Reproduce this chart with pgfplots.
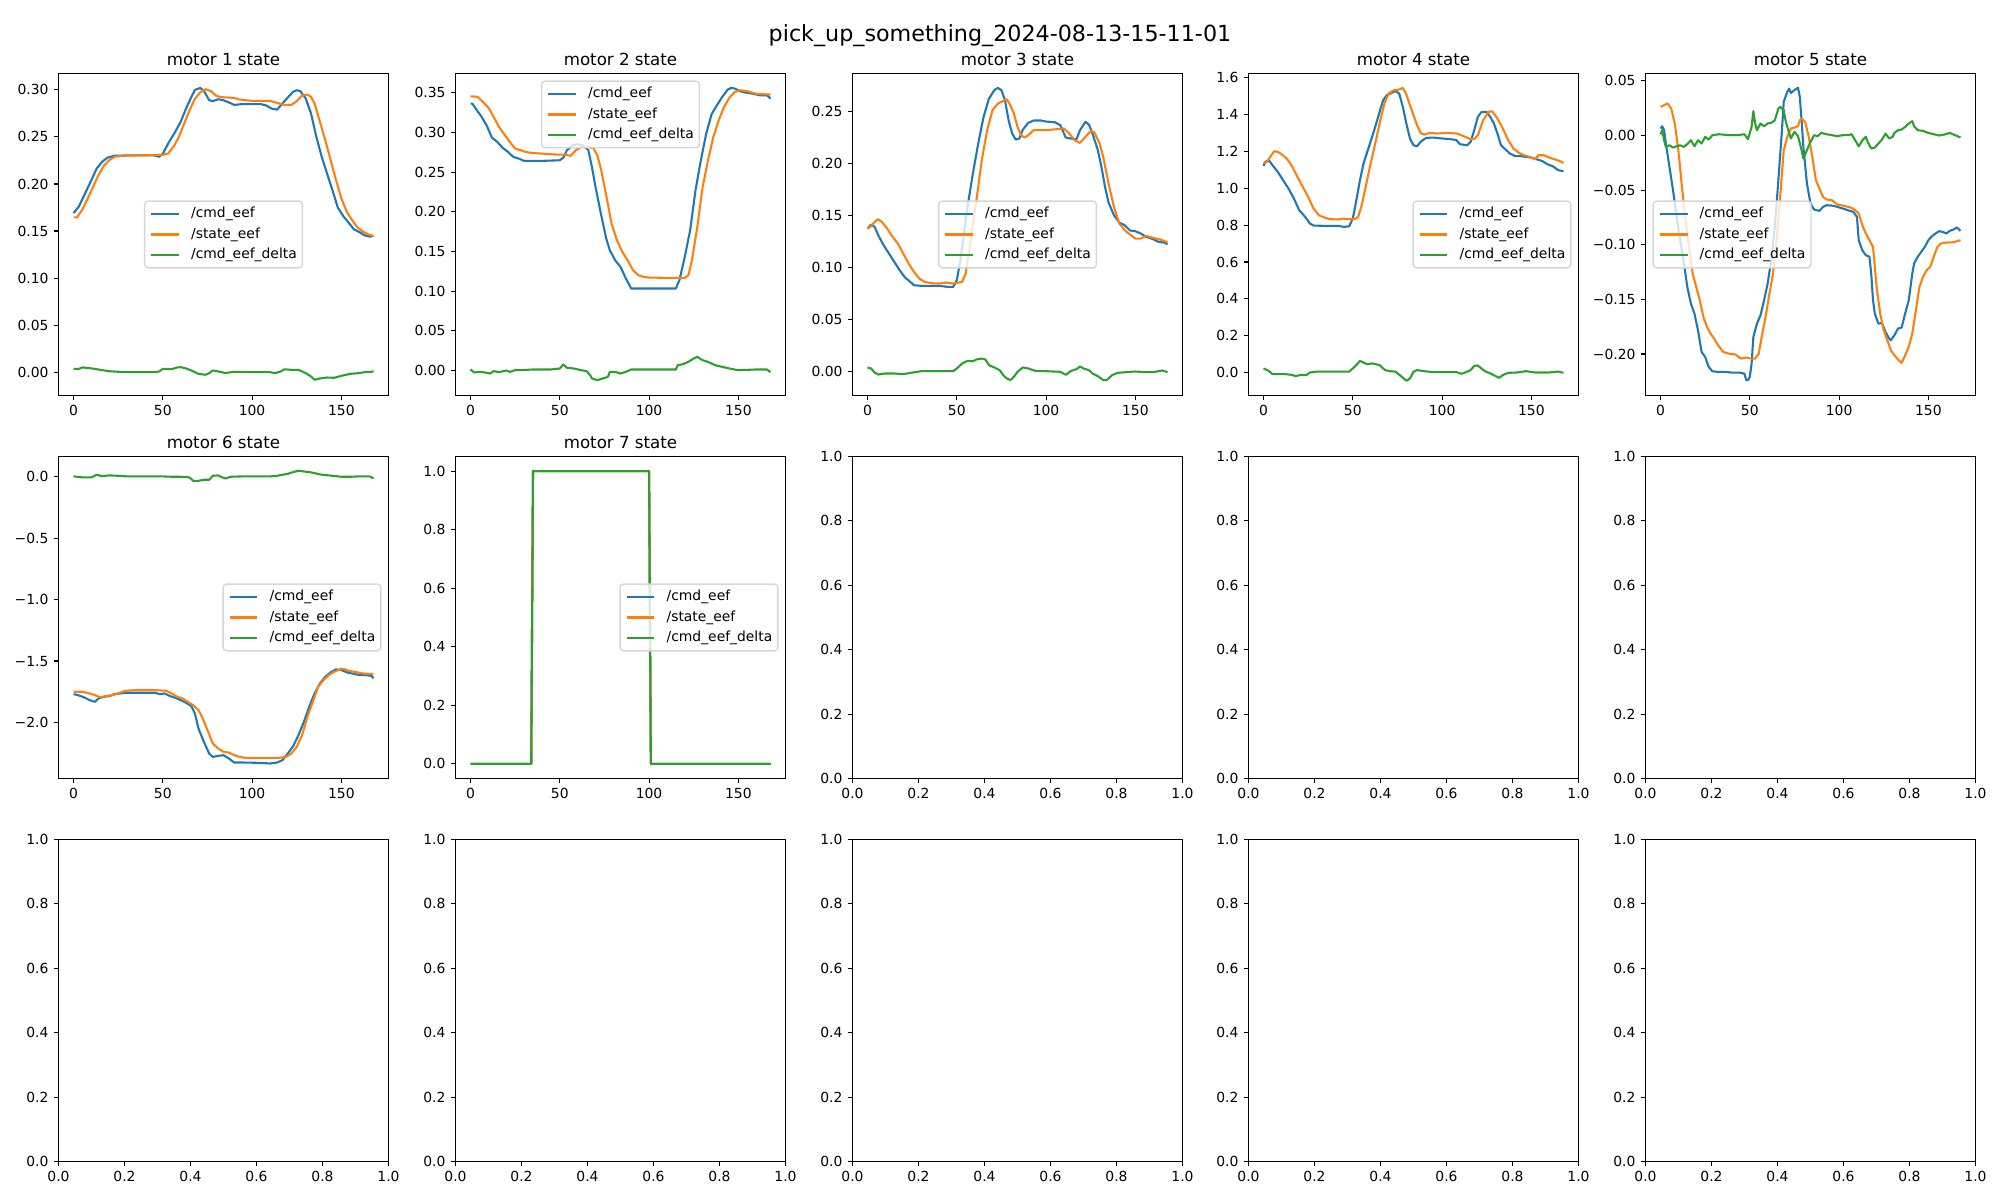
\documentclass[border=0pt]{standalone}
\usepackage{fontspec}
\setmainfont{DejaVu Sans}
\usepackage{pgfplots}
\pgfplotsset{compat=1.18}
\definecolor{mblue}{HTML}{1F77B4}
\definecolor{morange}{HTML}{FF7F0E}
\definecolor{mgreen}{HTML}{2CA02C}
\definecolor{legedge}{RGB}{214,214,214}
\newcommand{\tickfont}{\fontsize{10bp}{12bp}\selectfont}
\newcommand{\titlefont}{\fontsize{12bp}{14bp}\selectfont}
\pgfplotsset{
  mp/.style={scale only axis, width=3.30in, height=3.22in, anchor=south west,
    line width=0.8bp, tick align=outside, tick pos=left, major tick length=3.5bp,
    every tick/.style={black, line width=0.8bp},
    tick label style={font=\tickfont},
    every axis title shift=0pt,
    title style={font=\titlefont, at={(0.5,1)}, anchor=base, yshift=6bp, inner sep=0pt},
    legend cell align=left,
    legend style={font=\tickfont, fill=white, fill opacity=0.8, text opacity=1, draw=legedge,
      line width=1bp, rounded corners=2.5bp, inner xsep=4bp, inner ysep=4bp,
      row sep=5bp, column sep=8bp,
      nodes={inner sep=0pt, text height=7.6bp, text depth=2.4bp}},
    legend image code/.code={\draw[#1, line width=1.5bp, draw opacity=1] (0bp,0bp) -- (20bp,0bp);},
    every axis plot/.append style={line width=1.5bp, no markers, line join=round},
  },
  dat/.style={mp, xmin=-8.4, xmax=176.4, xtick={0,50,100,150}, xticklabels={0,50,100,150}},
  emp/.style={mp, xmin=0, xmax=1, ymin=0, ymax=1,
    xtick={0,0.2,0.4,0.6,0.8,1}, ytick={0,0.2,0.4,0.6,0.8,1},
    xticklabels={0.0,0.2,0.4,0.6,0.8,1.0}, yticklabels={0.0,0.2,0.4,0.6,0.8,1.0}},
  cl/.style={legend style={at={(0.5,0.5)}, anchor=center}},
  cr/.style={legend style={at={(1,0.5)}, anchor=east, xshift=-5bp}},
  cleft/.style={legend style={at={(0,0.5)}, anchor=west, xshift=5bp}},
  uc/.style={legend style={at={(0.5,1)}, anchor=north, yshift=-5bp}},
}
\begin{document}
\begin{tikzpicture}
\path[use as bounding box] (0,0) rectangle (20in,12in);
\node[font=\fontsize{16bp}{19bp}\selectfont, anchor=base, inner sep=0pt] at (10in,11.583in) {pick\_up\_something\_2024-08-13-15-11-01};

% motor 1
\begin{axis}[dat, cl, at={(0.585in,8.045in)}, title={motor 1 state}, ymin=-0.0248, ymax=0.3174,
  ytick={0,0.05,0.1,0.15,0.2,0.25,0.3}, yticklabels={0.00,0.05,0.10,0.15,0.20,0.25,0.30}]
\addplot[mblue] coordinates {(0,0.169)(3,0.176)(7,0.192)(10,0.204)(13,0.2165)(16,0.2235)(19,0.228)(23,0.230)(30,0.2303)(45,0.2303)(48,0.229)(50,0.232)(53,0.243)(57,0.2555)(60,0.266)(63,0.280)(66,0.2925)(68,0.300)(71,0.302)(73,0.299)(76,0.289)(78,0.288)(81,0.290)(84,0.289)(87,0.2866)(90,0.284)(95,0.285)(105,0.2848)(108,0.2834)(111,0.280)(114,0.279)(117,0.2855)(120,0.2919)(123,0.298)(125,0.2996)(127,0.2986)(130,0.291)(133,0.275)(136,0.250)(139,0.2289)(142,0.211)(145,0.1935)(148,0.175)(151,0.166)(154,0.159)(157,0.1518)(160,0.149)(163,0.1454)(166,0.144)(168,0.1447)};
\addplot[morange] coordinates {(0,0.1645)(2,0.1645)(5,0.173)(8,0.1847)(11,0.197)(14,0.2094)(17,0.2193)(20,0.2253)(23,0.2289)(27,0.230)(45,0.2307)(50,0.231)(53,0.2324)(56,0.2395)(59,0.250)(62,0.2643)(65,0.2784)(68,0.2904)(71,0.2975)(74,0.3007)(77,0.2986)(80,0.2936)(83,0.2922)(90,0.2915)(93,0.2897)(100,0.2883)(110,0.2883)(114,0.2862)(118,0.284)(122,0.284)(125,0.288)(128,0.294)(131,0.295)(133,0.2926)(135,0.2855)(138,0.266)(141,0.2466)(144,0.2254)(147,0.2041)(150,0.1847)(153,0.1705)(156,0.1617)(159,0.1539)(162,0.1496)(165,0.1465)(168,0.1447)};
\addplot[mgreen] coordinates {(0,0.0035)(3,0.0035)(5,0.005)(10,0.004)(15,0.0025)(20,0.001)(25,0.0004)(30,0)(45,0)(48,0.0007)(50,0.0035)(55,0.0032)(58,0.005)(60,0.0053)(63,0.004)(66,0.0018)(70,-0.0018)(74,-0.0028)(76,-0.001)(78,0.0018)(82,0.0004)(85,-0.001)(90,0.0004)(100,0)(110,0)(113,-0.001)(116,0.0007)(118,0.003)(122,0.0025)(126,0.0025)(130,-0.001)(133,-0.0046)(135,-0.0081)(138,-0.0067)(142,-0.0057)(146,-0.006)(150,-0.0039)(155,-0.0018)(160,-0.001)(163,0)(166,0)(168,0.001)};
\legend{/cmd\_eef,/state\_eef,/cmd\_eef\_delta}
\end{axis}

% motor 2
\begin{axis}[dat, uc, at={(4.555in,8.045in)}, title={motor 2 state}, ymin=-0.0315, ymax=0.3745,
  ytick={0,0.05,0.1,0.15,0.2,0.25,0.3,0.35}, yticklabels={0.00,0.05,0.10,0.15,0.20,0.25,0.30,0.35}]
\addplot[mblue] coordinates {(0,0.3366)(1,0.3366)(3,0.330)(6,0.3206)(9,0.3092)(12,0.2937)(15,0.2882)(18,0.2807)(21,0.2756)(24,0.2693)(27,0.2672)(30,0.2643)(40,0.2643)(50,0.2651)(52,0.2685)(54,0.2777)(57,0.284)(60,0.2853)(63,0.284)(66,0.2777)(68,0.2567)(70,0.2315)(73,0.1979)(76,0.1664)(78,0.1517)(81,0.139)(84,0.1307)(87,0.116)(90,0.1034)(95,0.1034)(115,0.1034)(117,0.1139)(120,0.1433)(123,0.1769)(126,0.2273)(129,0.2651)(132,0.2987)(135,0.3231)(138,0.3345)(141,0.345)(144,0.3542)(146,0.3563)(148,0.3555)(151,0.3521)(154,0.3504)(158,0.349)(162,0.347)(166,0.347)(168,0.3429)};
\addplot[morange] coordinates {(0,0.3458)(4,0.345)(7,0.3387)(10,0.3315)(13,0.3197)(16,0.307)(19,0.2975)(22,0.2882)(25,0.2798)(28,0.2777)(31,0.2756)(34,0.2744)(40,0.2735)(48,0.2723)(53,0.2723)(56,0.2706)(59,0.2777)(62,0.282)(66,0.282)(69,0.2798)(71,0.2714)(73,0.2546)(76,0.2210)(79,0.1853)(82,0.1643)(85,0.1496)(88,0.139)(91,0.1265)(94,0.1202)(97,0.118)(100,0.1172)(110,0.1168)(120,0.1168)(122,0.1202)(124,0.139)(127,0.181)(130,0.2315)(133,0.2651)(136,0.2945)(139,0.3155)(142,0.3324)(145,0.3441)(148,0.3513)(151,0.3534)(155,0.3521)(160,0.349)(168,0.3479)};
\addplot[mgreen] coordinates {(0,0.0013)(2,-0.0025)(5,-0.0017)(8,-0.0025)(11,-0.0038)(13,-0.0008)(16,-0.0021)(20,0)(22,-0.0017)(25,0.0004)(28,0.0004)(35,0.0013)(45,0.0013)(50,0.0025)(52,0.0076)(54,0.0034)(58,0.0025)(62,0.0004)(65,-0.0008)(67,-0.0059)(68,-0.01)(71,-0.0122)(74,-0.01)(77,-0.008)(78,-0.0017)(81,-0.0017)(84,-0.0038)(87,-0.0017)(90,0.0013)(100,0.0013)(115,0.0013)(116,0.0067)(119,0.008)(122,0.0109)(125,0.0151)(127,0.0172)(130,0.013)(133,0.0109)(137,0.0067)(141,0.0046)(145,0.0025)(150,0.0004)(160,0.0013)(166,0.0013)(168,-0.0021)};
\legend{/cmd\_eef,/state\_eef,/cmd\_eef\_delta}
\end{axis}

% motor 3
\begin{axis}[dat, cl, at={(8.525in,8.045in)}, title={motor 3 state}, ymin=-0.0231, ymax=0.287,
  ytick={0,0.05,0.1,0.15,0.2,0.25}, yticklabels={0.00,0.05,0.10,0.15,0.20,0.25}]
\addplot[mblue] coordinates {(0,0.1377)(2,0.1415)(4,0.1393)(6,0.1313)(9,0.1216)(12,0.1136)(15,0.1056)(18,0.0976)(21,0.0905)(24,0.0863)(26,0.0831)(30,0.0825)(40,0.0825)(45,0.0815)(48,0.0815)(50,0.0879)(52,0.1072)(54,0.1329)(56,0.1585)(59,0.1906)(62,0.2195)(65,0.2452)(68,0.2628)(71,0.2709)(73,0.2731)(75,0.2709)(77,0.2612)(79,0.242)(81,0.2291)(83,0.2234)(85,0.2243)(87,0.233)(90,0.2394)(93,0.2417)(97,0.2417)(100,0.2407)(105,0.24)(108,0.2372)(111,0.2253)(114,0.2243)(117,0.2237)(119,0.2323)(122,0.2404)(124,0.2378)(126,0.2291)(129,0.2131)(131,0.197)(133,0.1778)(135,0.1627)(138,0.1505)(141,0.1435)(144,0.1409)(147,0.1358)(150,0.1351)(153,0.1329)(156,0.1297)(160,0.1274)(163,0.1248)(166,0.1242)(168,0.1226)};
\addplot[morange] coordinates {(0,0.1377)(2,0.1399)(4,0.1441)(6,0.1467)(8,0.1441)(11,0.1377)(14,0.1297)(17,0.1232)(20,0.1136)(23,0.104)(26,0.096)(29,0.0895)(32,0.0863)(36,0.085)(40,0.0847)(44,0.0857)(48,0.0847)(53,0.0863)(55,0.0944)(57,0.1168)(59,0.1425)(61,0.165)(64,0.2035)(67,0.2324)(70,0.2516)(73,0.258)(76,0.2606)(78,0.2622)(80,0.2564)(82,0.2484)(84,0.2356)(86,0.2275)(88,0.2253)(90,0.2275)(93,0.2324)(100,0.2324)(110,0.2340)(113,0.2291)(116,0.2227)(119,0.2202)(122,0.2259)(125,0.2317)(127,0.2304)(130,0.2195)(132,0.2067)(135,0.181)(138,0.1585)(141,0.1425)(144,0.1361)(147,0.1319)(150,0.128)(153,0.128)(156,0.1306)(160,0.1287)(164,0.1271)(168,0.1245)};
\addplot[mgreen] coordinates {(0,0.0039)(2,0.0029)(4,-0.001)(6,-0.0029)(10,-0.0019)(15,-0.0019)(20,-0.0026)(24,-0.0013)(27,-0.0006)(30,0.0003)(40,0.0003)(48,0.0003)(50,0.0029)(53,0.0077)(56,0.0103)(59,0.0099)(61,0.0116)(64,0.0125)(66,0.0116)(68,0.0061)(71,0.0039)(74,0.0013)(76,-0.0035)(78,-0.0067)(80,-0.0083)(82,-0.0051)(84,-0.0003)(87,0.0039)(90,0.0029)(94,0.0006)(100,0.0003)(108,-0.0003)(111,-0.0032)(114,0.0006)(117,0.0022)(119,0.0048)(121,0.0029)(124,0.0013)(126,-0.0019)(129,-0.0045)(132,-0.0083)(134,-0.0083)(137,-0.0035)(140,-0.0013)(145,-0.0006)(150,0)(155,-0.0006)(160,-0.0006)(165,0.001)(168,-0.0006)};
\legend{/cmd\_eef,/state\_eef,/cmd\_eef\_delta}
\end{axis}

% motor 4
\begin{axis}[dat, cr, at={(12.485in,8.045in)}, title={motor 4 state}, ymin=-0.125, ymax=1.624,
  ytick={0,0.2,0.4,0.6,0.8,1,1.2,1.4,1.6}, yticklabels={0.0,0.2,0.4,0.6,0.8,1.0,1.2,1.4,1.6}]
\addplot[mblue] coordinates {(0,1.122)(1,1.144)(3,1.153)(5,1.126)(8,1.0896)(11,1.044)(14,0.999)(17,0.945)(20,0.881)(23,0.849)(26,0.809)(28,0.798)(35,0.796)(42,0.796)(45,0.791)(48,0.794)(50,0.836)(52,0.936)(54,1.044)(56,1.135)(59,1.225)(62,1.316)(65,1.415)(67,1.479)(69,1.506)(72,1.520)(74,1.529)(76,1.515)(78,1.443)(80,1.352)(82,1.271)(84,1.234)(86,1.229)(88,1.253)(91,1.274)(95,1.276)(100,1.271)(105,1.267)(108,1.262)(110,1.240)(114,1.234)(116,1.253)(118,1.316)(120,1.388)(122,1.414)(125,1.415)(127,1.388)(129,1.352)(131,1.298)(133,1.234)(135,1.216)(138,1.189)(141,1.175)(144,1.175)(147,1.171)(150,1.167)(153,1.158)(156,1.149)(159,1.131)(162,1.120)(165,1.099)(168,1.093)};
\addplot[morange] coordinates {(0,1.138)(2,1.144)(4,1.175)(6,1.202)(8,1.198)(10,1.186)(13,1.162)(16,1.120)(19,1.062)(22,1.008)(25,0.954)(28,0.890)(31,0.854)(34,0.842)(37,0.833)(42,0.831)(44,0.836)(47,0.833)(51,0.833)(53,0.845)(55,0.909)(57,0.999)(60,1.135)(63,1.262)(66,1.397)(68,1.470)(70,1.515)(73,1.533)(76,1.537)(78,1.546)(80,1.510)(82,1.452)(84,1.397)(86,1.343)(88,1.301)(90,1.292)(93,1.301)(97,1.298)(103,1.301)(108,1.298)(110,1.292)(113,1.280)(116,1.267)(118,1.269)(120,1.289)(123,1.370)(126,1.415)(128,1.419)(131,1.379)(134,1.325)(137,1.262)(140,1.216)(143,1.193)(146,1.180)(149,1.171)(152,1.158)(154,1.180)(157,1.180)(160,1.167)(163,1.158)(166,1.148)(168,1.138)};
\addplot[mgreen] coordinates {(0,0.022)(3,0.009)(5,-0.009)(8,-0.009)(12,-0.009)(16,-0.013)(18,-0.020)(21,-0.013)(24,-0.014)(26,0.0)(30,0.005)(40,0.005)(48,0.005)(50,0.022)(52,0.040)(54,0.063)(56,0.054)(58,0.045)(61,0.049)(65,0.040)(68,0.013)(71,0.007)(74,0.004)(77,-0.020)(80,-0.045)(82,-0.033)(84,0.004)(86,0.013)(90,0.007)(95,0.002)(100,0.002)(108,0.002)(111,-0.007)(114,0.004)(116,0.013)(118,0.036)(120,0.038)(122,0.022)(124,0.007)(127,-0.005)(130,-0.020)(132,-0.029)(134,-0.014)(137,-0.002)(142,0)(147,0.007)(152,0)(160,0)(165,0.005)(168,-0.002)};
\legend{/cmd\_eef,/state\_eef,/cmd\_eef\_delta}
\end{axis}

% motor 5
\begin{axis}[dat, cleft, at={(16.455in,8.045in)}, title={motor 5 state}, ymin=-0.238, ymax=0.0568,
  ytick={-0.2,-0.15,-0.1,-0.05,0,0.05}, yticklabels={−0.20,−0.15,−0.10,−0.05,0.00,0.05}]
\addplot[mblue] coordinates {(0,0.0064)(1,0.0085)(2,0.0049)(3,-0.0073)(5,-0.0287)(7,-0.050)(9,-0.0745)(11,-0.0958)(13,-0.1157)(15,-0.1386)(17,-0.1538)(19,-0.163)(21,-0.1783)(23,-0.1981)(25,-0.2027)(27,-0.2118)(29,-0.2158)(32,-0.2164)(36,-0.2164)(40,-0.217)(44,-0.217)(47,-0.218)(48,-0.224)(49,-0.224)(50,-0.221)(51,-0.2088)(52,-0.1844)(54,-0.1722)(56,-0.1645)(58,-0.1508)(60,-0.1355)(62,-0.1142)(64,-0.0836)(66,-0.0409)(68,0.0049)(69,0.0308)(71,0.040)(72,0.043)(73,0.039)(75,0.0415)(77,0.0437)(78,0.0354)(79,0.014)(80,-0.0104)(82,-0.044)(84,-0.0623)(86,-0.0678)(89,-0.069)(91,-0.0653)(93,-0.0638)(96,-0.0641)(99,-0.0653)(102,-0.0668)(105,-0.0684)(108,-0.0699)(110,-0.0745)(111,-0.0958)(113,-0.105)(115,-0.1096)(117,-0.111)(118,-0.1264)(119,-0.1508)(120,-0.163)(122,-0.1722)(124,-0.1716)(126,-0.1798)(128,-0.1859)(129,-0.1874)(131,-0.1828)(133,-0.1767)(135,-0.1758)(137,-0.163)(139,-0.1508)(141,-0.1264)(142,-0.1172)(144,-0.1111)(146,-0.1065)(148,-0.102)(150,-0.0958)(152,-0.0922)(154,-0.0897)(156,-0.0876)(158,-0.0882)(160,-0.0897)(162,-0.0873)(164,-0.0861)(166,-0.0842)(168,-0.0873)};
\addplot[morange] coordinates {(0,0.0262)(2,0.0278)(4,0.0293)(6,0.0247)(8,0.011)(10,-0.0134)(12,-0.047)(14,-0.0775)(16,-0.102)(18,-0.1264)(20,-0.1386)(22,-0.1508)(24,-0.166)(26,-0.1752)(28,-0.1813)(30,-0.1859)(32,-0.1914)(35,-0.198)(38,-0.1996)(42,-0.2005)(45,-0.2042)(48,-0.2033)(51,-0.2042)(53,-0.2042)(55,-0.1996)(57,-0.1813)(59,-0.1645)(61,-0.1447)(63,-0.1264)(65,-0.0958)(67,-0.0562)(69,-0.0134)(71,-0.0012)(73,0.0064)(75,0.0073)(77,0.0085)(78,0.014)(79,0.0153)(81,0.0125)(83,-0.0012)(85,-0.0195)(87,-0.0409)(89,-0.0485)(91,-0.0562)(93,-0.0586)(96,-0.0592)(99,-0.0632)(102,-0.0641)(105,-0.0653)(107,-0.0662)(109,-0.0684)(111,-0.0714)(113,-0.0821)(115,-0.0897)(117,-0.0958)(119,-0.102)(120,-0.1203)(121,-0.1386)(123,-0.163)(125,-0.1783)(127,-0.1874)(129,-0.1966)(131,-0.2012)(133,-0.2051)(135,-0.2082)(137,-0.2012)(139,-0.1935)(141,-0.1813)(143,-0.160)(145,-0.1386)(147,-0.1294)(149,-0.1233)(151,-0.1203)(153,-0.1111)(155,-0.102)(157,-0.0989)(160,-0.098)(164,-0.0977)(168,-0.0958)};
\addplot[mgreen] coordinates {(0,0.0012)(1,0.0049)(2,-0.0043)(3,-0.0104)(5,-0.0089)(7,-0.011)(9,-0.0098)(11,-0.0089)(13,-0.0104)(15,-0.0079)(17,-0.0043)(19,-0.0098)(21,-0.0043)(23,-0.0073)(25,-0.0012)(27,-0.0037)(29,0.0003)(33,0.0012)(38,0.0003)(43,0.0003)(47,0.0012)(49,-0.0034)(51,0.0079)(52,0.0223)(53,0.011)(54,0.0049)(56,0.011)(58,0.0085)(60,0.011)(62,0.0116)(64,0.014)(66,0.0247)(67,0.0262)(69,0.0232)(70,0.014)(71,0.0079)(73,-0.0027)(75,0.0034)(77,-0.0006)(79,-0.0134)(80,-0.0211)(82,-0.0134)(84,-0.0058)(86,0.0003)(88,-0.0006)(90,0.0024)(93,0.0012)(96,0.0003)(99,-0.0006)(102,0.0003)(105,0.0003)(107,0.0012)(109,-0.0043)(111,-0.0098)(112,-0.0073)(113,-0.0043)(115,-0.0012)(116,-0.0058)(118,-0.0119)(120,-0.011)(122,-0.0073)(124,-0.0037)(126,0.0018)(128,-0.0027)(130,-0.0012)(131,0.0024)(133,0.0049)(135,0.0055)(137,0.0079)(139,0.011)(141,0.0131)(142,0.0085)(144,0.0049)(147,0.0043)(150,0.0024)(153,0.0012)(156,0)(159,0.0009)(162,0.0024)(165,0.0003)(168,-0.0018)};
\legend{/cmd\_eef,/state\_eef,/cmd\_eef\_delta}
\end{axis}

% motor 6
\begin{axis}[dat, cr, at={(0.585in,4.215in)}, title={motor 6 state}, ymin=-2.456, ymax=0.165,
  ytick={-2,-1.5,-1,-0.5,0}, yticklabels={−2.0,−1.5,−1.0,−0.5,0.0}]
\addplot[mblue] coordinates {(0,-1.769)(3,-1.780)(6,-1.796)(9,-1.818)(12,-1.832)(14,-1.804)(17,-1.791)(20,-1.785)(23,-1.769)(26,-1.764)(30,-1.758)(40,-1.758)(46,-1.758)(48,-1.769)(51,-1.764)(54,-1.785)(57,-1.799)(60,-1.818)(63,-1.840)(66,-1.867)(68,-1.927)(70,-2.049)(73,-2.158)(76,-2.253)(78,-2.280)(81,-2.272)(84,-2.266)(87,-2.293)(90,-2.326)(95,-2.326)(105,-2.329)(110,-2.334)(114,-2.326)(117,-2.307)(120,-2.253)(123,-2.193)(126,-2.103)(129,-1.995)(132,-1.872)(135,-1.764)(138,-1.682)(141,-1.628)(144,-1.592)(147,-1.568)(150,-1.573)(153,-1.592)(156,-1.601)(160,-1.614)(164,-1.614)(167,-1.622)(168,-1.641)};
\addplot[morange] coordinates {(0,-1.750)(5,-1.750)(9,-1.764)(12,-1.777)(15,-1.796)(18,-1.785)(22,-1.777)(26,-1.758)(29,-1.742)(35,-1.736)(45,-1.736)(52,-1.742)(55,-1.764)(58,-1.791)(61,-1.804)(64,-1.832)(67,-1.859)(70,-1.899)(72,-1.954)(75,-2.062)(78,-2.171)(81,-2.212)(84,-2.239)(87,-2.245)(90,-2.266)(93,-2.280)(96,-2.288)(100,-2.288)(110,-2.288)(115,-2.288)(119,-2.280)(122,-2.253)(125,-2.198)(128,-2.103)(131,-1.954)(134,-1.832)(137,-1.709)(140,-1.655)(143,-1.614)(146,-1.587)(149,-1.568)(151,-1.563)(154,-1.579)(157,-1.587)(162,-1.601)(168,-1.606)};
\addplot[mgreen] coordinates {(0,0.003)(5,-0.005)(10,-0.005)(13,0.016)(16,0.005)(20,0.011)(25,0.008)(30,0.003)(40,0.003)(50,0.003)(55,0)(60,0)(65,-0.005)(67,-0.033)(70,-0.033)(73,-0.024)(76,-0.024)(78,0.008)(81,0.011)(83,-0.003)(85,-0.014)(88,0)(95,0.003)(110,0.003)(114,0.008)(117,0.016)(120,0.024)(123,0.038)(126,0.049)(129,0.043)(132,0.038)(135,0.030)(138,0.019)(141,0.014)(145,0.008)(150,0)(155,0)(160,0.003)(166,0.003)(168,-0.014)};
\legend{/cmd\_eef,/state\_eef,/cmd\_eef\_delta}
\end{axis}

% motor 7
\begin{axis}[dat, cr, at={(4.555in,4.215in)}, title={motor 7 state}, ymin=-0.05, ymax=1.05,
  ytick={0,0.2,0.4,0.6,0.8,1}, yticklabels={0.0,0.2,0.4,0.6,0.8,1.0}]
\addplot[mblue] coordinates {(0,0)(34,0)(35,1)(100,1)(101,0)(168,0)};
\addplot[morange] coordinates {(0,0)(34,0)(35,1)(100,1)(101,0)(168,0)};
\addplot[mgreen] coordinates {(0,0)(34,0)(35,1)(100,1)(101,0)(168,0)};
\legend{/cmd\_eef,/state\_eef,/cmd\_eef\_delta}
\end{axis}

% empty axes
\begin{axis}[emp, at={(8.525in,4.215in)}]\end{axis}
\begin{axis}[emp, at={(12.485in,4.215in)}]\end{axis}
\begin{axis}[emp, at={(16.455in,4.215in)}]\end{axis}
\begin{axis}[emp, at={(0.585in,0.385in)}]\end{axis}
\begin{axis}[emp, at={(4.555in,0.385in)}]\end{axis}
\begin{axis}[emp, at={(8.525in,0.385in)}]\end{axis}
\begin{axis}[emp, at={(12.485in,0.385in)}]\end{axis}
\begin{axis}[emp, at={(16.455in,0.385in)}]\end{axis}
\end{tikzpicture}
\end{document}
